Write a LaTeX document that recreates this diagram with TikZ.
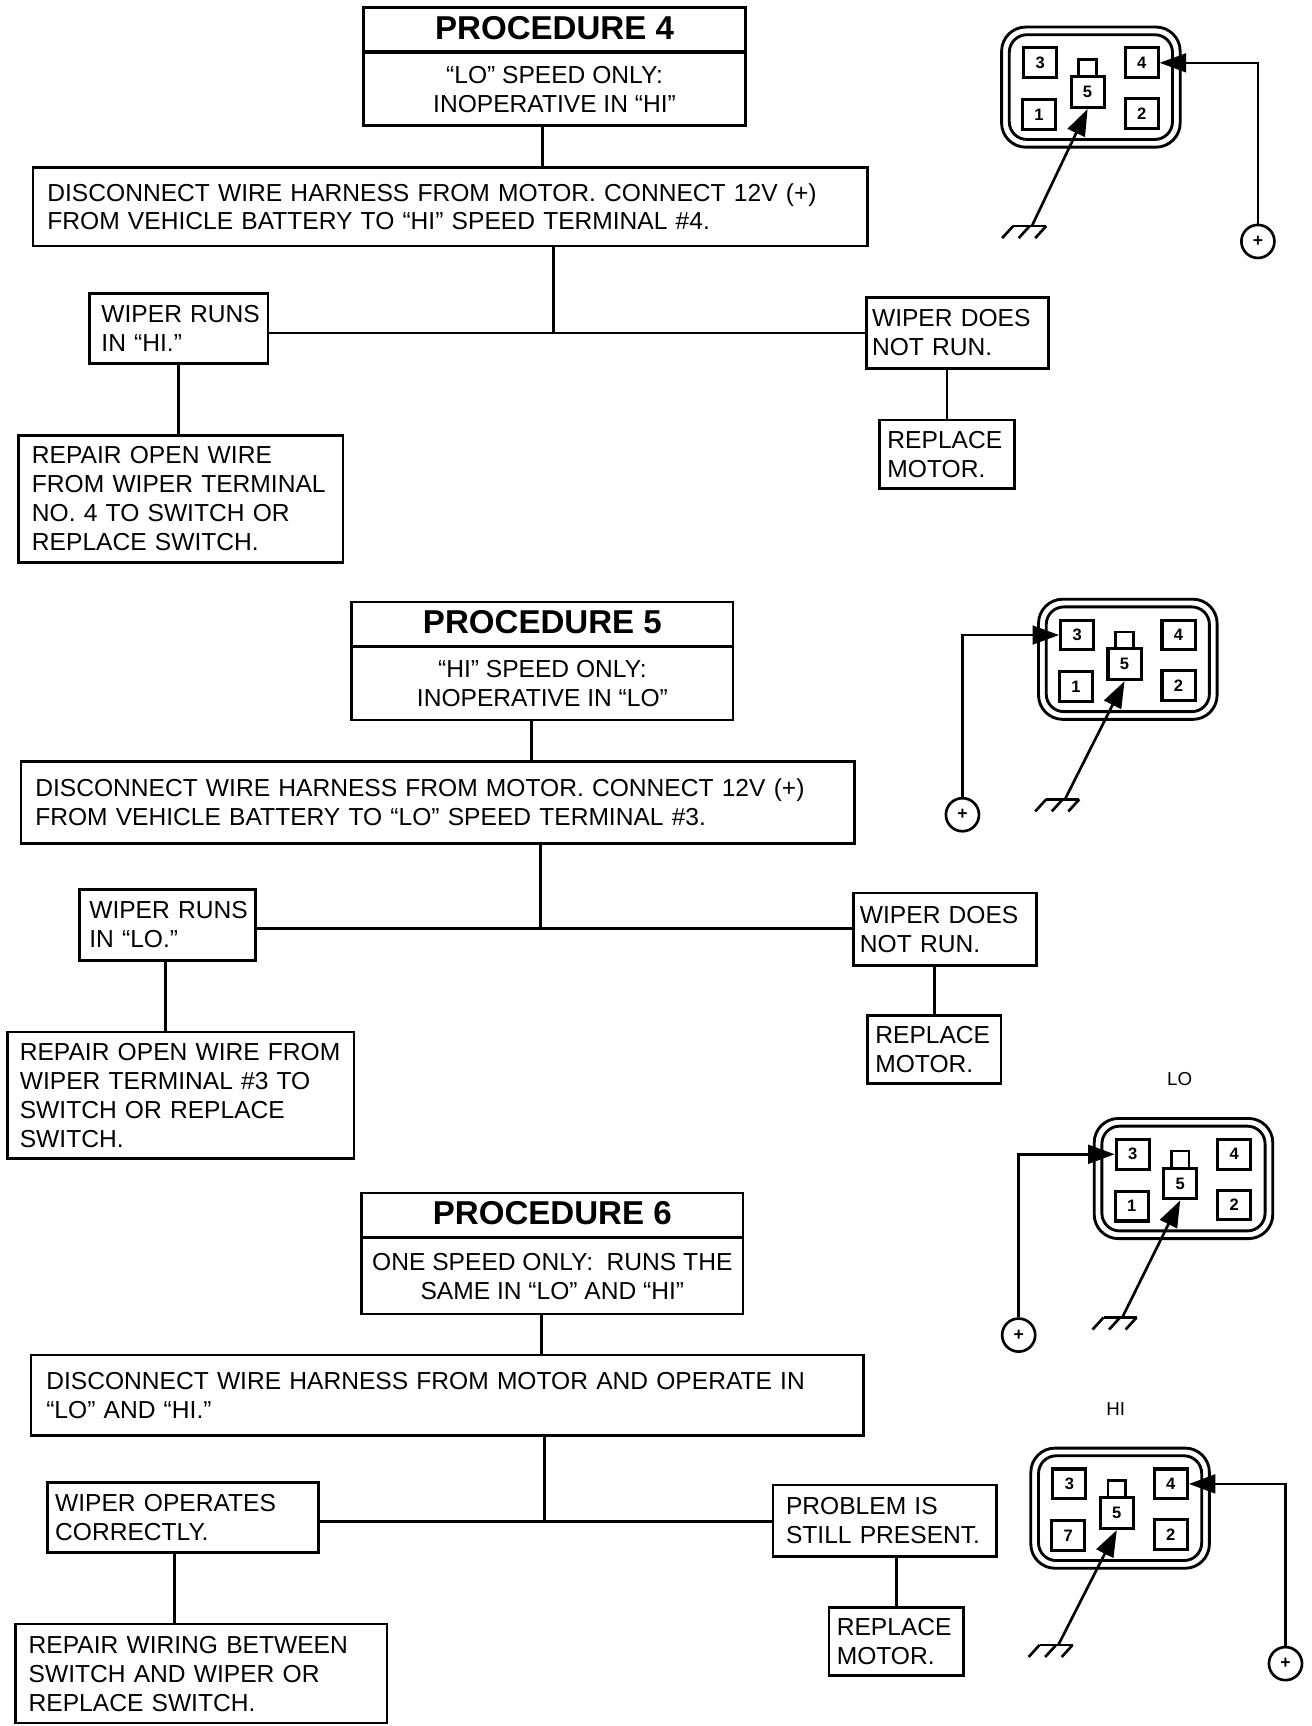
\documentclass[tikz,border=0pt]{standalone}
\usepackage{fontspec}
\setmainfont{Liberation Sans}
\usetikzlibrary{calc,positioning,arrows.meta}
\tikzset{
	stepbox/.style = {draw, line width=2.4pt, outer sep=0pt, anchor=north west, align=left, inner ysep=0pt, font=\fontsize{22.3}{26.3}\selectfont},
	titlebox/.style = {draw, line width=2.4pt, outer sep=0pt, anchor=north west, minimum width=346pt, minimum height=40pt, inner sep=0pt, text depth=3pt, font=\fontsize{30}{30}\bfseries\selectfont},
	subbox/.style = {draw, line width=2.4pt, outer sep=0pt, minimum width=346pt, minimum height=66pt, inner sep=0pt, align=center, font=\fontsize{22.3}{26.3}\selectfont},
	link/.style = {line width=2.5pt},
	wire/.style = {line width=2.4pt, -{Triangle[length=24pt,width=17pt]}},
	term/.style = {draw, line width=2.8pt, minimum width=30pt, minimum height=27pt, inner sep=0pt, font=\fontsize{15}{15}\bfseries\selectfont},
	battery/.style = {draw, circle, line width=2.4pt, minimum size=30pt, inner sep=0pt, font=\fontsize{16}{16}\bfseries\selectfont},
	speed/.style = {inner sep=0pt, font=\fontsize{17}{17}\selectfont},
	pics/plug/.style = {code = {
		\draw[line width=2.6pt, rounded corners=22pt] (-81,-54.5) rectangle (81,54.5);
		\draw[line width=2.6pt, rounded corners=16pt] (-74,-47.5) rectangle (74,47.5);
		\node[term] (t3) at (-46,-22) {3};
		\node[term] (t4) at (46,-22) {4};
		\node[term] (t1) at (-47,25) {#1};
		\node[term] (t2) at (46,24) {2};
		\node[term, minimum width=30pt, minimum height=28pt] (t5) at (-3,4.5) {5};
		\draw[line width=2.4pt] ([xshift=-8pt]t5.north) -- ++(0,-14) -- ++(16,0) -- ([xshift=8pt]t5.north);
	}},
	pics/earth/.style = {code = {
		\draw[line width=2.4pt] (-17,0) -- (13,0);
		\draw[line width=2.4pt] (-17,0) -- ++(-10,11);
		\draw[line width=2.4pt] (-2,0) -- ++(-10,11);
		\draw[line width=2.4pt] (13,0) -- ++(-10,11);
	}}
}
\begin{document}
\begin{tikzpicture}[x=1pt, y=-1pt]
	\useasboundingbox (0,0) rectangle (1190,1565.6);

	\node[titlebox] (p4) at (330,7) {PROCEDURE 4};
	\node[subbox, below=1pt of p4] (p4sub) {“LO” SPEED ONLY:\\INOPERATIVE IN “HI”};
	\node[stepbox, text width=731pt, inner xsep=13pt, minimum height=71pt] (p4act) at (30,152) {DISCONNECT WIRE HARNESS FROM MOTOR. CONNECT 12V (+)\\FROM VEHICLE BATTERY TO “HI” SPEED TERMINAL \#4.};
	\node[stepbox, text width=140pt, inner xsep=11pt, minimum height=64pt] (p4yes) at (81,266) {WIPER~RUNS\\IN “HI.”};
	\node[stepbox, text width=155pt, inner xsep=5pt, minimum height=64pt] (p4no) at (786,270) {WIPER DOES\\NOT RUN.};
	\node[stepbox, text width=270pt, inner xsep=12pt, minimum height=115pt] (p4rep) at (17,395) {REPAIR OPEN WIRE\\FROM WIPER TERMINAL\\NO. 4 TO SWITCH OR\\REPLACE SWITCH.};
	\node[stepbox, text width=108pt, inner xsep=7pt, minimum height=62pt] (p4fix) at (798,381) {REPLACE\\MOTOR.};
	\coordinate (j4) at (502,302);
	\draw[link] ([xshift=-11pt]p4sub.south) -- ([xshift=-11pt]p4sub.south |- p4act.north);
	\draw[link] (p4act.south -| j4) -- (j4);
	\draw[link] (p4yes.east |- j4) -- (p4no.west |- j4);
	\draw[link] (p4yes.south) -- (p4yes.south |- p4rep.north);
	\draw[link] (p4fix.north) -- (p4fix.north |- p4no.south);

	\node[titlebox] (p5) at (319,546) {PROCEDURE 5};
	\node[subbox, below=1pt of p5] (p5sub) {“HI” SPEED ONLY:\\INOPERATIVE IN “LO”};
	\node[stepbox, text width=730pt, inner xsep=13pt, minimum height=74pt] (p5act) at (19,691) {DISCONNECT WIRE HARNESS FROM MOTOR. CONNECT 12V (+)\\FROM VEHICLE BATTERY TO “LO” SPEED TERMINAL \#3.};
	\node[stepbox, text width=142pt, inner xsep=9pt, minimum height=64pt] (p5yes) at (72,807) {WIPER~RUNS\\IN “LO.”};
	\node[stepbox, text width=154pt, inner xsep=6pt, minimum height=66pt] (p5no) at (774,810) {WIPER DOES\\NOT RUN.};
	\node[stepbox, text width=292pt, inner xsep=11pt, minimum height=115pt] (p5rep) at (7,936) {REPAIR OPEN WIRE FROM\\WIPER TERMINAL \#3 TO\\SWITCH OR REPLACE\\SWITCH.};
	\node[stepbox, text width=107pt, inner xsep=7pt, minimum height=62pt] (p5fix) at (787,921) {REPLACE\\MOTOR.};
	\coordinate (j5) at (490,842);
	\draw[link] ([xshift=-10pt]p5sub.south) -- ([xshift=-10pt]p5sub.south |- p5act.north);
	\draw[link] (p5act.south -| j5) -- (j5);
	\draw[link] (p5yes.east |- j5) -- (p5no.west |- j5);
	\draw[link] ([xshift=-2pt]p5yes.south) -- ([xshift=-2pt]p5yes.south |- p5rep.north);
	\draw[link] (p5fix.north) -- (p5fix.north |- p5no.south);

	\node[titlebox] (p6) at (328,1082) {PROCEDURE 6};
	\node[subbox, below=1pt of p6, minimum height=69pt] (p6sub) {ONE SPEED ONLY:\ \ RUNS THE\\SAME IN “LO” AND “HI”};
	\node[stepbox, text width=727pt, inner xsep=14pt, minimum height=73pt] (p6act) at (28,1229) {DISCONNECT WIRE HARNESS FROM MOTOR AND OPERATE IN\\“LO” AND “HI.”};
	\node[stepbox, text width=232pt, inner xsep=7pt, minimum height=63pt] (p6yes) at (43,1345) {WIPER OPERATES\\CORRECTLY.};
	\node[stepbox, text width=179pt, inner xsep=12pt, minimum height=65pt] (p6no) at (701,1347) {PROBLEM IS\\STILL PRESENT.};
	\node[stepbox, text width=313pt, inner xsep=12pt, minimum height=90pt] (p6rep) at (14,1473) {REPAIR WIRING BETWEEN\\SWITCH AND WIPER OR\\REPLACE SWITCH.};
	\node[stepbox, text width=108pt, inner xsep=7pt, minimum height=62pt] (p6fix) at (752,1458) {REPLACE\\MOTOR.};
	\coordinate (j6) at (494,1380);
	\draw[link] ([xshift=-9.5pt]p6sub.south) -- ([xshift=-9.5pt]p6sub.south |- p6act.north);
	\draw[link] (p6act.south -| j6) -- (j6);
	\draw[link] (p6yes.east |- j6) -- (p6no.west |- j6);
	\draw[link] ([xshift=-8pt]p6yes.south) -- ([xshift=-8pt]p6yes.south |- p6rep.north);
	\draw[link] (p6fix.north) -- (p6fix.north |- p6no.south);

	\pic (c4) at (989.5,79) {plug=1};
	\node[battery] (b4) at (1141,219) {+};
	\coordinate (g4) at (936,205);
	\pic at (g4) {earth};
	\draw[wire] (b4) |- (c4t4);
	\draw[wire] (g4) -- (c4t5.south);

	\pic (c5) at (1023,598) {plug=1};
	\node[battery] (b5) at (873,739) {+};
	\coordinate (g5) at (966,725);
	\pic at (g5) {earth};
	\draw[wire] (b5) |- (c5t3);
	\draw[wire] (g5) -- (c5t5.south);

	\node[speed] (lo) at (1070,979) {LO};
	\pic (c6) at (1073.5,1069) {plug=1};
	\node[battery] (b6) at (924,1211) {+};
	\coordinate (g6) at (1018,1195);
	\pic at (g6) {earth};
	\draw[wire] (b6) |- (c6t3);
	\draw[wire] (g6) -- (c6t5.south);

	\node[speed] (hi) at (1012,1278) {HI};
	\pic (c7) at (1016,1368) {plug=7};
	\node[battery] (b7) at (1166,1509) {+};
	\coordinate (g7) at (960,1492);
	\pic at (g7) {earth};
	\draw[wire] (b7) |- (c7t4);
	\draw[wire] (g7) -- (c7t5.south);
\end{tikzpicture}
\end{document}
